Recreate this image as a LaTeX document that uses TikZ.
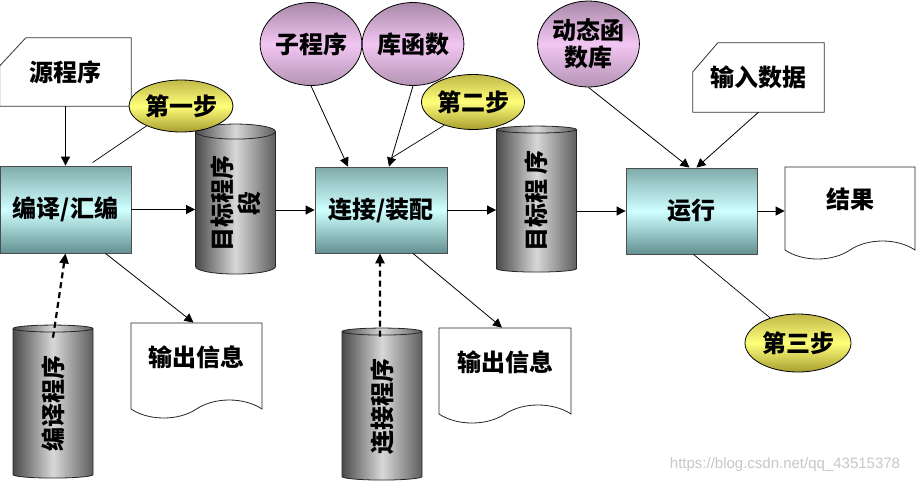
\documentclass[tikz,border=0pt]{standalone}
\usepackage{fontspec}
\setmainfont{Noto Sans CJK SC}
\newfontfamily\wmfont{Liberation Sans}
\usepackage{tikz}
\usetikzlibrary{shapes.geometric, shapes.symbols, arrows.meta, calc}
\definecolor{tealedge}{HTML}{80AAAA}
\definecolor{teallight}{HTML}{CFFFFF}
\definecolor{tealdark}{HTML}{639191}
\definecolor{drumdark}{HTML}{4A4A4A}
\definecolor{drumlight}{HTML}{D8D8D8}
\definecolor{drumedge}{HTML}{5E5E5E}
\definecolor{ovaltop}{HTML}{C0B848}
\definecolor{ovalmid}{HTML}{FFFF7A}
\definecolor{ovalbot}{HTML}{A89E30}
\definecolor{balltop}{HTML}{A888A8}
\definecolor{ballmid}{HTML}{F2C6F2}
\definecolor{ballbot}{HTML}{B494B4}

\begin{document}
\begin{tikzpicture}[
    x=1pt, y=-1pt,
    every node/.style={font=\fontsize{24}{27}\selectfont\bfseries},
    procbox/.style={rectangle, draw=black!70, line width=0.8pt, top color=tealedge, bottom color=tealdark, middle color=teallight, minimum width=131pt, minimum height=87pt, inner sep=0pt},
    drum/.style={cylinder, rotate=90, shape aspect=0.3, draw=black!85, line width=0.8pt, left color=drumdark, right color=drumedge, middle color=drumlight, minimum width=80pt, minimum height=150pt, inner sep=0pt, align=center},
    stepoval/.style={ellipse, draw=black, line width=0.8pt, top color=ovaltop, bottom color=ovalbot, middle color=ovalmid, minimum width=104pt, minimum height=52pt, inner sep=0pt},
    libball/.style={ellipse, draw=black, line width=0.8pt, top color=balltop, bottom color=ballbot, middle color=ballmid, minimum width=76pt, minimum height=83pt, inner sep=0pt, align=center},
    card/.style={rectangle, minimum width=131pt, minimum height=68pt, inner sep=0pt},
    cardline/.style={draw=black!80, line width=0.8pt},
    docpage/.style={tape, tape bend top=none, tape bend bottom=in and out, tape bend height=18pt, draw=black!85, line width=0.8pt, fill=white, minimum width=131pt, minimum height=95pt, inner sep=0pt, text height=20pt, text depth=11pt},
    wmark/.style={font=\wmfont\fontsize{15}{18}\selectfont, text=black!22},
    arrow/.style={-{Triangle[length=9pt, width=9pt]}, line width=0.8pt},
    callout/.style={line width=0.7pt},
    dasharrow/.style={-{Triangle[length=10pt, width=9pt]}, line width=2.2pt, dash pattern=on 6pt off 4pt}
]
\useasboundingbox (0,0) rectangle (916,483);

% top row
\node[card] (src) at (65.5,72) {源程序};
\draw[cardline] ($(src.north west)+(0,28)$) -- ($(src.north west)+(26,0)$) -- (src.north east) -- (src.south east) -- (src.south west) -- cycle;
\node[card, minimum height=69pt] (input) at (758.5,77.5) {输入数据};
\draw[cardline] ($(input.north west)+(0,29)$) -- ($(input.north west)+(25,0)$) -- (input.north east) -- (input.south east) -- (input.south west) -- cycle;
\node[libball] (sub) at (311,44) {子程序};
\node[libball] (lib) at (413,44) {库函数};
\node[libball, minimum width=79pt, minimum height=86pt] (dyn) at (588.5,44) {动态函\\数库};

% main line
\node[procbox] (comp) at (65.5,209.5) {编译/汇编};
\node[drum] (tgt1) at (235.5,203) {目标程序\\段};
\node[procbox, minimum width=132pt, minimum height=86pt] (link) at (381,210) {连接/装配};
\node[drum, minimum height=146pt] (tgt2) at (536.5,201) {目标程 序};
\node[procbox, minimum height=86pt] (run) at (691.5,211) {运行};
\node[docpage, minimum width=130pt, minimum height=92pt] (result) at (850,204) {结果};

% steps
\node[stepoval] (step1) at (181,106) {第一步};
\node[stepoval, minimum width=103pt, minimum height=55pt] (step2) at (473,102) {第二步};
\node[stepoval, minimum width=106pt, minimum height=58pt] (step3) at (798,343) {第三步};

% bottom row
\node[drum, minimum height=153pt] (ccomp) at (53,403.5) {编译程序};
\node[docpage] (out1) at (196.5,361.5) {输出信息};
\node[drum, minimum height=152pt] (clink) at (382,406) {连接程序};
\node[docpage, minimum width=132pt] (out2) at (505,366.5) {输出信息};

\node[wmark] (wm) at (785,465) {https://blog.csdn.net/qq\_43515378};

\draw[arrow] (src) -- (comp);
\draw[callout] (step1.210) -- ($(comp.north)+(27,-3)$);
\draw[arrow] (comp.east) -- (comp.east -| tgt1.north);
\draw[arrow] (tgt1.south |- link.west) -- (link.west);
\draw[arrow] (sub.south) -- ($(link.north)+(-33,0)$);
\draw[arrow] (lib.south) -- ($(link.north)+(8,0)$);
\draw[callout] (step2.219) -- ($(link.north)+(11,-9)$);
\draw[arrow] (link.east) -- (link.east -| tgt2.north);
\draw[arrow] (tgt2.south |- run.west) -- (run.west);
\draw[arrow] (dyn.south) -- ($(run.north)+(-2,0)$);
\draw[arrow] (input.south) -- ($(run.north)+(5,0)$);
\draw[arrow] (run.east) -- (run.east -| result.west);
\draw[callout] ($(run.south)+(2,0)$) -- (step3.138);
\draw[dasharrow] ($(ccomp.east)+(0,13)$) -- (comp.south);
\draw[arrow] ($(comp.south)+(40,0)$) -- ($(out1.north)+(-3,0)$);
\draw[dasharrow] ($(clink.east)+(-2,9)$) -- ($(link.south)+(-1,0)$);
\draw[arrow] ($(link.south)+(32,0)$) -- ($(out2.north)+(-3,0)$);
\end{tikzpicture}
\end{document}
